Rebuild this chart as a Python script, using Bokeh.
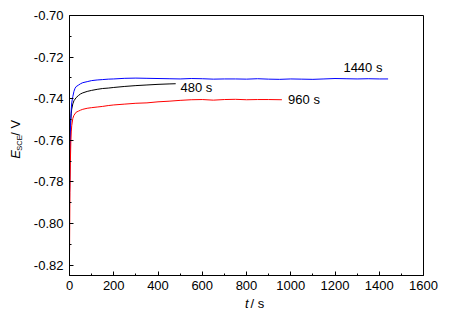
import math
from bokeh.plotting import figure
from bokeh.layouts import row, column
from bokeh.models import Range1d, Label, NumeralTickFormatter, FixedTicker
from bokeh.embed import file_html
from bokeh.resources import INLINE

# ---- data ----
t_1440 = [0, 2, 4, 6, 8, 10, 15, 20, 25, 30, 40, 50, 60, 80, 100, 125, 150, 175, 200,
          250, 300, 350, 400, 450, 500, 550, 600, 650, 700, 750, 800, 850, 900, 950,
          1000, 1050, 1100, 1150, 1200, 1250, 1300, 1350, 1400, 1440]
e_1440 = [-0.790, -0.768, -0.756, -0.749, -0.745, -0.742, -0.739, -0.7365, -0.7350, -0.7342,
          -0.7335, -0.7328, -0.7323, -0.7318, -0.7313, -0.7310, -0.7308, -0.7306, -0.7305,
          -0.7302, -0.7301, -0.7302, -0.7303, -0.7304, -0.7305, -0.7303, -0.7304, -0.7306,
          -0.7305, -0.7305, -0.7306, -0.7304, -0.7306, -0.7307, -0.7305, -0.7306, -0.7307,
          -0.7305, -0.7303, -0.7304, -0.7305, -0.7304, -0.7305, -0.7305]

t_480 = [0, 2, 4, 6, 8, 10, 15, 20, 30, 40, 50, 60, 80, 100, 125, 150, 175, 200, 250,
         300, 350, 400, 450, 480]
e_480 = [-0.785, -0.765, -0.755, -0.750, -0.747, -0.745, -0.7425, -0.741, -0.7395, -0.7385,
         -0.7377, -0.7372, -0.7365, -0.7360, -0.7355, -0.7351, -0.7349, -0.7346, -0.7341,
         -0.7337, -0.7334, -0.7331, -0.7329, -0.7328]

t_960 = [0, 2, 4, 6, 8, 10, 15, 20, 30, 40, 50, 60, 80, 100, 125, 150, 175, 200, 250,
         300, 350, 400, 450, 500, 550, 600, 650, 700, 750, 800, 850, 900, 960]
e_960 = [-0.815, -0.785, -0.770, -0.761, -0.756, -0.753, -0.7495, -0.748, -0.7465, -0.746,
         -0.7455, -0.7451, -0.7446, -0.7443, -0.7440, -0.7437, -0.7433, -0.7430, -0.7426,
         -0.7422, -0.7420, -0.7415, -0.7412, -0.7408, -0.7405, -0.7404, -0.7407, -0.7404,
         -0.7403, -0.7405, -0.7404, -0.7404, -0.7405]

x_ticks = [0, 200, 400, 600, 800, 1000, 1200, 1400, 1600]
x_minor = [100, 300, 500, 700, 900, 1100, 1300, 1500]
y_ticks = [-0.82, -0.80, -0.78, -0.76, -0.74, -0.72, -0.70]
y_minor = [-0.81, -0.79, -0.77, -0.75, -0.73, -0.71]

series_labels = ["1440 s", "480 s", "960 s"]

FONT = "Liberation Sans"
YLAB_W = 27
MAIN_H = 296

# ---- main chart ----
p = figure(width=440 - YLAB_W, height=MAIN_H, output_backend="svg", toolbar_location=None,
           x_range=Range1d(0, 1600), y_range=Range1d(-0.825, -0.70),
           min_border_left=69 - YLAB_W, min_border_right=17, min_border_top=15,
           min_border_bottom=21)
p.grid.visible = False
p.outline_line_color = "black"
p.outline_line_width = 1
p.background_fill_color = "white"
p.border_fill_color = "white"

p.xaxis.ticker = FixedTicker(ticks=x_ticks, minor_ticks=x_minor)
p.yaxis.ticker = FixedTicker(ticks=y_ticks, minor_ticks=y_minor)
p.yaxis.formatter = NumeralTickFormatter(format="0.00")
for ax in (p.xaxis[0], p.yaxis[0]):
    ax.axis_line_color = "black"
    ax.major_tick_line_color = "black"
    ax.minor_tick_line_color = "black"
    ax.major_tick_in = 4
    ax.major_tick_out = 0
    ax.minor_tick_in = 2
    ax.minor_tick_out = 0
    ax.major_label_text_font = FONT
    ax.major_label_text_font_size = "13px"
    ax.major_label_text_color = "black"
p.yaxis.major_label_standoff = 6
p.xaxis.major_label_standoff = 5

p.line(t_480, e_480, color="black", line_width=1)
p.line(t_1440, e_1440, color="#0000ff", line_width=1)
p.line(t_960, e_960, color="#ff0000", line_width=1)

def lab(fig, x, y, text, size="13px", style="normal", align="left", baseline="middle", angle=0.0):
    fig.add_layout(Label(x=x, y=y, text=text, text_font=FONT, text_font_size=size,
                         text_font_style=style, text_align=align, text_baseline=baseline,
                         angle=angle, text_color="black"))

lab(p, 1238, -0.7250, series_labels[0])
lab(p, 502, -0.7347, series_labels[1])
lab(p, 988, -0.7403, series_labels[2])

def blank(w, h):
    f = figure(width=w, height=h, output_backend="svg", toolbar_location=None,
               x_range=Range1d(0, w), y_range=Range1d(h, 0),
               x_axis_type=None, y_axis_type=None,
               min_border=0, min_border_left=0, min_border_right=0,
               min_border_top=0, min_border_bottom=0)
    f.grid.visible = False
    f.outline_line_color = None
    f.background_fill_color = "white"
    f.border_fill_color = "white"
    return f

# ---- y axis title strip: E_SCE / V ----
yl = blank(YLAB_W, MAIN_H)
a = math.pi / 2
lab(yl, 15, 163, "E", style="italic", baseline="alphabetic", angle=a)
lab(yl, 19, 154, "SCE", size="7.5px", baseline="alphabetic", angle=a)
lab(yl, 15, 137, "/ V", baseline="alphabetic", angle=a)

# ---- x axis title strip: t / s ----
XL_H = 313 - MAIN_H
xl = blank(440, XL_H)
lab(xl, 248, 7.0, "t", style="italic", align="right")
lab(xl, 250, 7.0, "/ s", align="left")

layout = column(row(yl, p, spacing=0), xl, spacing=0)

open("out.html", "w").write(file_html(layout, INLINE))
